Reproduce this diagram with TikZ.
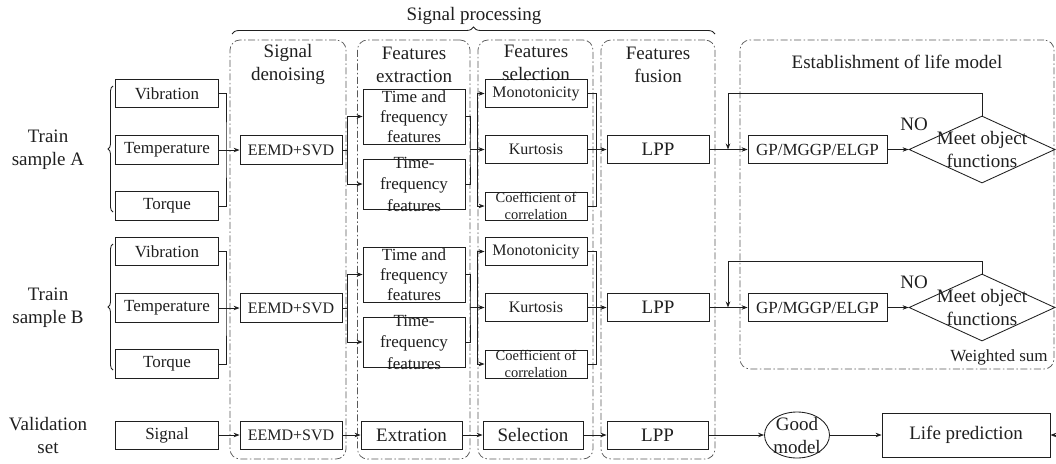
\documentclass[tikz,border=0pt]{standalone}
\usepackage{fontspec}
\setmainfont{Liberation Serif}
\usetikzlibrary{shapes.geometric,arrows.meta,decorations.pathreplacing}
\newcommand\fsz[2]{\fontsize{#1}{#2}\selectfont}
\begin{document}
\begin{tikzpicture}[x=1pt,y=-1pt,color=black!88,line width=0.85pt,
  box/.style={draw,rectangle,minimum width=#1,minimum height=28.5pt,inner sep=0pt,font=\fsz{17}{20}},
  box/.default=103pt,
  region/.style={draw=black!65,line width=0.75pt,dash pattern=on 7pt off 2.5pt on 1.5pt off 2.5pt,
    rounded corners=10pt,rectangle,inner sep=0pt},
  arr/.style={-{Stealth[length=6pt,width=4.5pt]}},
  lbl/.style={align=center,inner sep=0pt,font=\fsz{19}{23}},
  inlbl/.style={align=center,inner sep=0pt}
]
\useasboundingbox (0,0) rectangle (1056,463);

% regions
\node[region,minimum width=116pt,minimum height=419pt] (rden) at (288,249.5) {};
\node[region,minimum width=112.5pt,minimum height=419pt] (rext) at (413.75,249.5) {};
\node[region,minimum width=115pt,minimum height=419pt] (rsel) at (535.5,249.5) {};
\node[region,minimum width=114pt,minimum height=419pt] (rfus) at (658,249.5) {};
\node[region,minimum width=314pt,minimum height=329pt] (rest) at (897,204.5) {};

% headings
\draw[decorate,decoration={brace,amplitude=7pt}] (232,34) -- (715,34);
\node[lbl] (hproc) at (474,16) {Signal processing};
\node[lbl] (hden) at (288,64.5) {Signal\\denoising};
\node[lbl] (hext) at (414,64.5) {Features\\extraction};
\node[lbl] (hsel) at (536,62.5) {Features\\selection};
\node[lbl] (hfus) at (658,64.5) {Features\\fusion};
\node[lbl] (hest) at (897,62) {Establishment of life model};

\foreach \r/\dy/\fb in {A/0/93,B/158/103}{
  \node[lbl] (train\r) at (48,{150+\dy}) {Train\\sample \r};
  \draw[decorate,decoration={brace,amplitude=5pt}] (113,{212+\dy}) -- (113,{86+\dy});
  \node[box] (vib\r) at (167,{93.5+\dy}) {Vibration};
  \node[box] (temp\r) at (167,{150+\dy}) {Temperature};
  \node[box] (torq\r) at (167,{206+\dy}) {Torque};
  \node[box=102pt,font=\fsz{16}{19}] (eemd\r) at (291,{150+\dy}) {EEMD+SVD};
  \node[box=102pt,minimum height=55pt,
        label={[inlbl,font=\fsz{17}{20}]center:Time and\\frequency\\features}] (tfa\r) at (414,{116.5+\dy}) {};
  \node[box=102pt,minimum height=50pt,
        label={[inlbl,font=\fsz{17}{21.5}]center:Time-\\frequency\\features}] (tfb\r) at (414,{184+\dy}) {};
  \node[box=102pt,font=\fsz{16}{19}] (mono\r) at (536,{93.5+\dy}) {Monotonicity};
  \node[box=102pt,font=\fsz{16}{19}] (kurt\r) at (536,{149.5+\dy}) {Kurtosis};
  \node[box=102pt,minimum height=28pt,
        label={[inlbl,font=\fsz{14.5}{17}]center:Coefficient of\\correlation}] (coef\r) at (536,{206+\dy}) {};
  \node[box=102pt,font=\fsz{19}{22}] (lpp\r) at (658,{149.5+\dy}) {LPP};
  \node[box=139pt] (gp\r) at (817.5,{149.5+\dy}) {GP/MGGP/ELGP};
  \node[diamond,draw,minimum width=146pt,minimum height=67pt,inner sep=0pt,
        label={[inlbl,font=\fsz{19}{23}]center:Meet object\\functions}] (dia\r) at (982,{149.5+\dy}) {};
  \node[inlbl,font=\fsz{19}{22}] (no\r) at (914,{124+\dy}) {NO};
  \coordinate (fb\r) at (728,{149.5+\dy});

  % connectors
  \draw (vib\r.east) -| (226,{150+\dy}) |- (torq\r.east);
  \draw[arr] (temp\r) -- (eemd\r);
  \draw (eemd\r.east) -- (347,{150+\dy});
  \draw[arr] (347,{150+\dy}) |- (tfa\r.west);
  \draw[arr] (347,{150+\dy}) |- (tfb\r.west);
  \draw (tfa\r.east) -| (470,{149.5+\dy}) |- (tfb\r.east);
  \draw (470,{149.5+\dy}) -- (477,{149.5+\dy});
  \draw[arr] (477,{149.5+\dy}) |- (mono\r.west);
  \draw[arr] (477,{149.5+\dy}) -- (kurt\r.west);
  \draw[arr] (477,{149.5+\dy}) |- (coef\r.west);
  \draw (mono\r.east) -| (596,{149.5+\dy}) |- (coef\r.east);
  \draw[arr] (kurt\r) -- (lpp\r);
  \draw[arr] (lpp\r) -- (gp\r);
  \draw[arr] (gp\r) -- (dia\r);
  \draw[arr] (dia\r.north) |- (728,{\fb+\dy}) -- (fb\r);
}
\node[inlbl,font=\fsz{17}{20}] (wsum) at (999,357) {Weighted sum};

% validation row
\node[lbl] (valid) at (48,435) {Validation\\set};
\node[box,minimum height=28pt] (sig) at (167,435) {Signal};
\node[box=102pt,minimum height=28pt,font=\fsz{16}{19}] (eemdV) at (291,435) {EEMD+SVD};
\node[box=101pt,minimum height=28pt,font=\fsz{19}{22}] (extr) at (411.5,435) {Extration};
\node[box=100pt,minimum height=28pt,font=\fsz{19}{22}] (selV) at (533,435) {Selection};
\node[box=101pt,minimum height=28pt,font=\fsz{19}{22}] (lppV) at (657.5,435) {LPP};
\node[ellipse,draw,minimum width=65pt,minimum height=46pt,inner sep=0pt,
      label={[inlbl,font=\fsz{19}{23}]center:Good\\model}] (good) at (797,435) {};
\node[box=168pt,minimum height=44pt,font=\fsz{19}{22}] (life) at (966,435) {Life prediction};
\coordinate (edge) at (1056,435);
\draw[arr] (sig) -- (eemdV);
\draw[arr] (eemdV) -- (extr);
\draw[arr] (extr) -- (selV);
\draw[arr] (selV) -- (lppV);
\draw[arr] (lppV) -- (good);
\draw[arr] (good) -- (life);
\draw[arr] (edge) -- (life);
\end{tikzpicture}
\end{document}
